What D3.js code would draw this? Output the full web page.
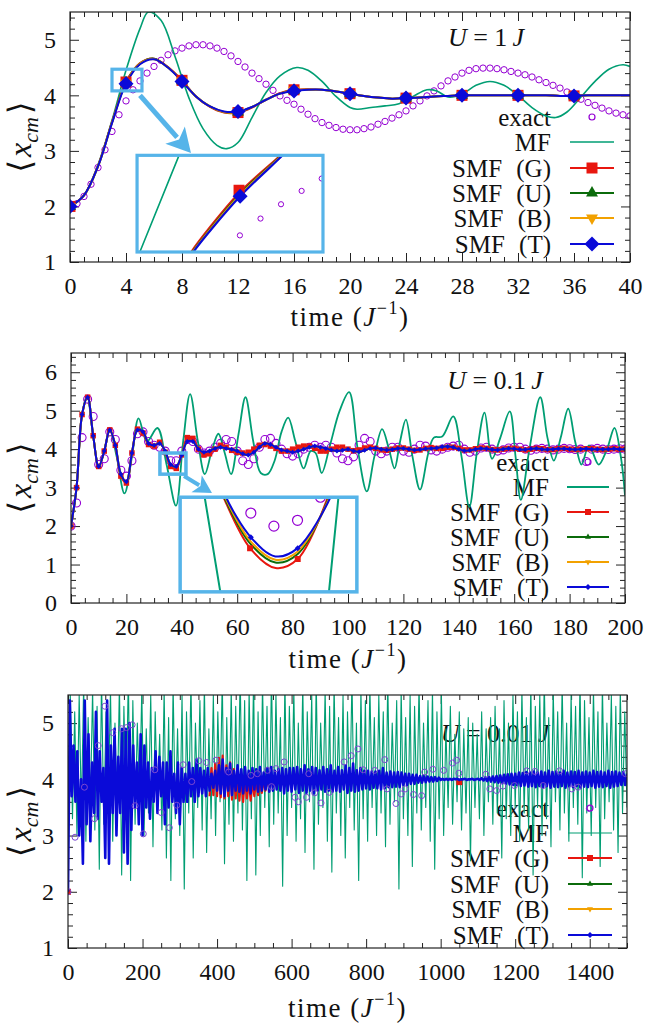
<!DOCTYPE html>
<html><head><meta charset="utf-8">
<script src="https://cdn.jsdelivr.net/npm/d3@7"></script>
<style>body{margin:0;background:#fff} svg text{font-family:"Liberation Serif","Times New Roman",serif;}</style>
</head><body><script>
// ---------------- DATA ----------------
const legendLabels = ["exact", "MF", "SMF (G)", "SMF (U)", "SMF (B)", "SMF (T)"];
const titles = ["1", "0.1", "0.01"];
const xTicks1 = [0,4,8,12,16,20,24,28,32,36,40];
const yTicks1 = [1,2,3,4,5];
const xTicks2 = [0,20,40,60,80,100,120,140,160,180,200];
const yTicks2 = [0,1,2,3,4,5,6];
const xTicks3 = [0,200,400,600,800,1000,1200,1400];
const yTicks3 = [1,2,3,4,5];

// Panel 1 (U = 1 J)
const exact1T = d3.range(0, 40.01, 0.5);
const exact1V = [2.0,2.05,2.18,2.4,2.7,3.02,3.35,3.65,3.9,4.1,4.26,4.4,4.52,4.63,4.73,4.8,4.85,4.89,4.91,4.91,
  4.89,4.85,4.79,4.71,4.61,4.51,4.4,4.3,4.2,4.09,3.99,3.91,3.84,3.75,3.66,3.58,3.51,3.46,3.42,3.39,
  3.38,3.38,3.4,3.43,3.48,3.53,3.59,3.65,3.72,3.81,3.9,3.99,4.08,4.17,4.26,4.33,4.4,4.45,4.48,4.49,
  4.49,4.48,4.46,4.43,4.4,4.37,4.33,4.28,4.23,4.18,4.13,4.06,3.99,3.93,3.87,3.82,3.77,3.72,3.68,3.65,3.63];
const mf1T = [0,1,2,3,4,5,5.6,6.5,7.5,8.5,9.5,10.5,11.2,12,13,14,15,16.2,17,18,19,20,20.5,21.5,22.5,23.5,24.5,25.5,26.2,27,28,29,30,31,32,33,34,34.7,35.5,36.5,37.5,38.5,39.5,40];
const mf1V = [2.0,2.2,2.75,3.55,4.45,5.2,5.5,5.35,4.7,3.95,3.4,3.1,3.04,3.15,3.6,4.05,4.35,4.5,4.45,4.25,3.98,3.78,3.75,3.78,3.81,3.85,3.98,4.1,4.08,3.97,4.02,4.18,4.25,4.18,4.0,3.78,3.63,3.6,3.7,3.97,4.25,4.47,4.55,4.52];
const smf1T = d3.range(0, 41, 1);
const smfG1 = [2.0,2.2,2.73,3.52,4.24,4.58,4.66,4.51,4.27,3.98,3.79,3.69,3.69,3.78,3.92,4.04,4.1,4.11,4.1,4.07,4.03,3.99,3.96,3.94,3.95,3.96,3.98,3.99,4.0,4.0,4.0,4.0,4.0,4.0,4.0,3.99,3.99,4.0,4.0,4.0,4.0];
const smfU1 = [2.0,2.2,2.72,3.51,4.23,4.57,4.66,4.5,4.26,3.98,3.8,3.7,3.7,3.79,3.92,4.03,4.09,4.1,4.1,4.07,4.03,3.99,3.96,3.94,3.95,3.96,3.98,3.99,4.0,4.0,4.0,4.0,4.0,4.0,4.0,3.99,3.99,4.0,4.0,4.0,4.0];
const smfB1 = [2.0,2.2,2.72,3.51,4.22,4.57,4.65,4.5,4.26,3.98,3.8,3.7,3.7,3.79,3.92,4.03,4.09,4.1,4.1,4.07,4.03,3.99,3.96,3.94,3.95,3.96,3.98,3.99,4.0,4.0,4.0,4.0,4.0,4.0,4.0,3.99,3.99,4.0,4.0,4.0,4.0];
const smfT1 = [2.0,2.2,2.72,3.5,4.21,4.56,4.65,4.5,4.25,3.98,3.8,3.71,3.71,3.79,3.92,4.03,4.08,4.1,4.1,4.07,4.03,3.99,3.96,3.94,3.95,3.96,3.98,3.99,4.0,4.0,4.0,4.0,4.0,4.0,4.0,3.99,3.99,4.0,4.0,4.0,4.0];
// inset 1 (zoomed view)
const in1MF = [[3.06,3.88],[3.076,3.91],[3.445,4.41],[3.46,4.44]];
const in1G = [[3.53,3.88],[3.56,3.91],[4.01,4.215],[4.4,4.41],[4.45,4.44]];
const in1U = [[3.54,3.88],[3.57,3.91],[4.015,4.207],[4.41,4.41],[4.46,4.44]];
const in1B = [[3.545,3.88],[3.575,3.91],[4.017,4.203],[4.415,4.41],[4.465,4.44]];
const in1T = [[3.55,3.88],[3.58,3.91],[4.02,4.198],[4.42,4.41],[4.47,4.44]];
const in1MarkG = [[4.01,4.229]];
const in1MarkT = [[4.02,4.198]];
const in1Exact = [[4.018,3.996],[4.212,4.083],[4.405,4.157],[4.599,4.226],[4.788,4.29]];

// Panel 2 (U = 0.1 J)
const t2 = d3.range(0, 201, 2);
const exact2 = [2.0,2.6,4.3,5.3,4.85,3.6,3.75,4.45,4.25,3.45,
  3.3,3.7,4.4,4.45,4.2,4.1,4.05,3.95,3.7,3.7,
  3.95,4.25,4.2,4.0,3.9,3.95,4.05,4.15,4.25,4.2,
  3.95,3.7,3.6,3.75,4.05,4.25,4.28,4.15,4.0,3.88,
  3.82,3.88,4.0,4.05,4.1,4.05,4.1,4.05,3.9,3.75,
  3.7,3.8,4.1,4.28,4.2,3.95,3.88,3.95,4.05,4.05,
  3.95,3.92,4.0,4.1,4.08,3.98,3.95,4.0,4.05,4.08,
  4.1,4.0,3.92,3.95,4.03,4.05,4.0,3.95,3.98,4.03,
  4.05,4.05,4.0,3.97,4.0,4.02,4.0,3.98,4.0,4.02,
  4.01,3.99,4.0,3.68,4.0,4.02,4.0,3.99,4.0,4.01,4.0];
const mf2T = [0,2,4,5.8,8,10,12,14,16.5,19.3,22,24.4,27.4,31.2,34.5,37.9,40.5,43,45.8,48.3,50.8,53.2,55.5,57.8,60.5,63,65.8,68.5,71,73.5,76,78.4,81,84,86.5,88.3,90.5,93.5,97,100.4,103.5,106.8,109.5,112.3,114.8,116.8,118.8,120.9,123.3,126,129,131,134,138,141,143.8,146.5,149.3,152,155,158.4,160.5,162.4,165.5,169.4,172,174.3,176.8,179.5,182,184.3,187,190.5,193.5,196.2,198.5,200];
const mf2V = [2.0,3.0,4.9,5.37,4.35,3.55,3.95,4.5,3.8,2.85,3.8,4.8,4.2,4.55,3.6,2.53,4.2,5.43,4.2,3.35,3.95,4.4,3.9,3.35,4.4,5.35,4.2,3.38,3.35,3.7,4.45,4.82,4.2,3.5,3.95,3.9,3.38,4.1,5.0,5.48,4.0,2.9,3.8,4.52,4.0,3.5,4.2,4.77,3.8,2.95,3.9,4.3,4.33,4.85,3.8,2.5,3.9,4.95,3.75,4.3,4.98,3.8,2.68,4.0,5.35,4.3,3.7,4.3,5.05,4.2,3.6,4.1,3.6,4.0,4.55,3.8,2.8];
const smfG2 = [2.0,3.0,4.9,5.35,4.35,3.55,3.95,4.5,4.1,3.3,
  3.12,3.9,4.52,4.42,4.12,4.08,4.18,3.92,3.55,3.5,
  3.85,4.3,4.28,4.0,3.85,3.88,4.0,4.1,4.05,3.97,
  3.92,3.9,3.92,4.0,4.1,4.12,4.08,4.02,3.95,3.95,
  4.0,4.05,4.08,4.08,4.02,3.95,3.95,4.0,4.05,4.05,
  4.0,3.96,3.98,4.03,4.05,4.02,3.98,3.97,4.0,4.03,
  4.03,4.0,3.97,3.98,4.02,4.04,4.02,4.02,4.05,4.05,
  4.02,3.98,3.98,4.01,4.03,4.02,3.99,3.98,4.0,4.02,
  4.02,4.0,3.98,4.0,4.02,4.01,3.99,3.99,4.01,4.02,
  4.0,3.99,4.0,4.01,4.01,4.0,3.99,4.0,4.01,4.0,4.0];
const smfT2 = [2.0,3.0,4.9,5.35,4.35,3.55,3.95,4.5,4.1,3.35,
  3.15,3.9,4.5,4.45,4.15,4.1,4.15,3.95,3.6,3.55,
  3.85,4.2,4.2,4.0,3.92,3.95,4.02,4.05,4.02,4.0,
  3.95,3.88,3.85,3.92,4.05,4.15,4.12,4.05,3.98,3.95,
  3.92,3.95,4.0,4.05,4.08,4.05,4.02,3.98,3.95,3.97,
  4.0,3.95,3.93,3.97,4.02,4.03,4.0,3.98,3.99,4.02,
  4.02,4.0,3.98,3.99,4.01,4.02,4.03,4.06,4.07,4.05,
  4.0,3.96,3.97,4.0,4.02,4.01,3.99,3.98,4.0,4.02,
  4.01,3.99,3.99,4.01,4.02,4.0,3.99,4.0,4.01,4.01,
  4.0,3.99,4.0,4.01,4.0,4.0,4.0,4.0,4.01,4.0,4.0];
const smfU2 = smfT2; // hidden under SMF (T) in the main view
const smfB2 = smfT2;
// inset 2
const in2MFa = [[33.2,3.98],[33.32,3.91],[34.16,3.36],[34.25,3.3]];
const in2MFb = [[40.57,3.98],[40.51,3.91],[40.0,3.36],[39.95,3.3]];
const in2G = [[34.1,3.97],[34.33,3.91],[35.76,3.614],[37.13,3.499],[38.32,3.551],[39.94,3.91],[40.1,3.97]];
const in2U = [[34.15,3.97],[34.37,3.91],[35.77,3.64],[37.12,3.53],[38.32,3.58],[40.0,3.91],[40.15,3.97]];
const in2B = [[34.2,3.97],[34.42,3.91],[35.78,3.655],[37.12,3.547],[38.32,3.595],[40.04,3.91],[40.2,3.97]];
const in2T = [[34.3,3.97],[34.47,3.91],[35.8,3.677],[37.12,3.566],[38.32,3.614],[40.08,3.91],[40.25,3.97]];
const in2MarkG = [[35.76,3.614],[38.32,3.551]];
const in2MarkT = [[35.8,3.677],[38.32,3.614]];
const in2Exact = [[35.8,3.818],[37.04,3.742],[38.31,3.776],[39.54,3.91]];

// Panel 3 (U = 0.01 J)
const mf3T = d3.range(0, 1501, 6);
const mf3V = [2.0,5.6,3.3,5.2,3.0,5.5,3.4,5.7,2.9,5.1,3.5,5.6,3.1,5.3,2.4,5.8,3.2,5.2,3.6,5.6,
  2.9,5.0,3.4,5.7,2.3,5.3,3.5,5.9,2.2,5.4,3.2,5.0,3.6,5.6,3.0,4.9,3.4,5.5,2.8,5.2,
  3.5,4.8,3.1,5.6,2.6,5.1,2.2,5.7,3.3,4.9,3.0,5.5,2.05,5.2,3.4,5.8,2.6,5.0,3.5,5.4,
  3.1,5.7,2.7,4.9,3.3,5.5,3.0,5.2,3.6,5.8,2.5,5.1,3.2,5.6,2.9,5.3,3.4,5.9,3.1,5.4,
  2.2,5.6,3.3,5.8,2.3,5.2,3.0,5.7,3.5,5.3,2.8,5.9,3.2,5.5,3.4,5.1,2.1,5.8,3.0,5.3,
  3.5,5.6,2.9,5.0,3.3,5.7,2.7,5.2,3.6,5.5,2.4,5.8,3.2,5.0,3.5,5.6,2.9,5.3,2.35,5.7,
  3.4,5.1,3.0,5.5,2.6,5.2,3.5,5.8,3.1,5.0,2.2,5.6,3.3,5.4,2.9,5.7,3.5,5.1,3.0,5.5,
  3.4,5.2,2.8,5.8,3.2,5.0,3.6,5.4,2.05,5.6,3.3,5.1,3.0,5.5,2.45,5.3,3.4,5.7,3.1,5.0,
  3.5,5.4,2.9,5.6,2.4,5.2,3.3,5.5,3.0,4.9,3.5,5.3,3.2,4.8,3.6,5.2,3.1,4.9,3.4,5.1,
  2.55,5.0,3.5,4.8,3.3,5.2,3.0,4.9,3.6,5.1,3.2,5.3,3.4,4.9,2.6,5.4,3.3,5.0,3.0,5.5,
  3.5,5.2,2.9,5.6,3.4,5.1,3.1,5.7,2.3,5.3,3.5,5.5,3.0,5.8,3.3,5.1,2.8,5.6,3.6,5.2,
  3.1,5.7,3.4,5.0,2.9,5.5,3.5,5.3,3.2,5.8,2.25,5.4,3.4,5.1,3.0,5.6,3.5,5.2,2.45,5.7,
  3.3,5.0,3.6,5.5,3.1,5.3,2.7,5.6,3.4,5.2,3.5];
const smf3T = d3.range(0, 1501, 5);
const smfT3 = [2.0,5.4,3.7,4.6,3.6,4.5,3.0,4.0,2.5,5.4,3.2,4.8,2.9,4.3,3.4,5.2,3.3,4.5,3.6,4.2,
  2.6,5.4,2.5,4.6,3.4,4.9,3.0,4.4,3.4,4.9,2.7,4.9,2.5,5.0,3.1,4.6,3.5,4.3,3.2,4.8,
  3.0,4.6,3.5,4.3,3.3,4.2,3.6,4.5,3.4,4.4,3.7,4.3,3.2,4.3,3.5,4.5,3.6,4.1,3.4,4.3,
  3.2,4.2,3.6,4.1,3.6,4.3,3.7,4.2,3.6,4.35,3.7,4.2,3.75,4.15,3.7,4.2,3.8,4.1,3.85,4.15,
  3.8,4.25,3.75,4.35,3.7,4.2,3.8,4.28,3.72,4.15,3.8,4.25,3.78,4.18,3.75,4.22,3.8,4.15,3.75,4.2,
  3.82,4.18,3.78,4.22,3.8,4.12,3.82,4.2,3.78,4.22,3.8,4.15,3.82,4.18,3.8,4.2,3.75,4.18,3.8,4.2,
  3.78,4.2,3.82,4.22,3.76,4.18,3.8,4.25,3.76,4.18,3.8,4.22,3.75,4.2,3.8,4.16,3.82,4.22,3.78,4.18,
  3.8,4.25,3.78,4.15,3.8,4.22,3.78,4.16,3.82,4.25,3.76,4.2,3.8,4.28,3.78,4.16,3.8,4.2,3.82,4.15,
  3.84,4.15,3.82,4.14,3.85,4.14,3.84,4.15,3.82,4.2,3.84,4.12,3.86,4.14,3.86,4.12,3.87,4.13,3.86,4.12,
  3.9,4.1,3.9,4.1,3.92,4.08,3.92,4.08,3.94,4.06,3.94,4.06,3.95,4.05,3.96,4.04,3.96,4.04,3.97,4.03,
  3.99,4.01,3.99,4.01,3.99,4.01,3.99,4.01,4.0,4.01,3.99,4.0,4.0,4.01,3.99,4.0,4.0,4.01,3.99,4.0,
  4.01,3.99,4.02,3.98,4.03,3.97,4.04,3.96,4.05,3.95,4.06,3.94,4.07,3.93,4.08,3.92,4.09,3.91,4.1,3.9,
  4.1,3.9,4.12,3.88,4.11,3.89,4.13,3.87,4.12,3.88,4.14,3.86,4.12,3.88,4.14,3.86,4.12,3.88,4.15,3.85,
  4.13,3.87,4.14,3.86,4.12,3.88,4.15,3.85,4.12,3.87,4.14,3.86,4.13,3.88,4.15,3.85,4.12,3.87,4.14,3.86,
  4.12,3.88,4.15,3.85,4.13,3.87,4.14,3.86,4.12,3.88,4.15,3.85,4.13,3.87,4.14,3.88,4.12,3.9,4.13,3.9,4.1];
const smfG3T = d3.range(380, 601, 5);
const smfG3 = [3.7,4.2,3.72,4.28,3.7,4.38,3.68,4.42,3.66,4.25,3.7,4.3,3.64,4.18,3.66,4.12,3.62,4.08,3.6,4.05,
  3.66,4.02,3.62,3.98,3.7,4.0,3.72,4.02,3.76,3.98,3.8,4.03,3.84,4.05,3.86,4.0,3.9,4.02,3.9,4.03,3.92,4.02,3.94,4.02,3.95];
const smfG3Marks = [[0,2.0],[1050,3.95]];
const exact3 = [[0,2.0],[19,2.97],[44,3.86],[71,3.3],[81,4.6],[99,5.3],[120,4.83],[144,4.9],[157,4.92],[172,4.97],
  [180,3.53],[202,3.03],[233,4.17],[250,3.41],[272,3.14],[292,3.54],[309,4.26],[332,3.96],[351,4.33],[372,4.3],
  [397,4.34],[431,4.13],[491,4.07],[508,4.1],[535,4.16],[546,3.87],[558,4.19],[580,4.31],[609,3.68],[618,3.6],
  [640,3.68],[646,4.1],[662,3.76],[679,3.58],[701,3.77],[741,4.31],[760,4.42],[778,4.54],[792,4.17],[823,4.16],
  [850,4.35],[856,3.83],[880,3.57],[894,3.74],[905,3.83],[927,3.73],[949,3.71],[957,4.13],[979,4.18],[1008,4.16],
  [1032,4.29],[1043,4.34],[1049,4.11],[1121,4.09],[1132,3.83],[1150,3.8],[1167,3.88],[1198,3.89],[1231,4.15],[1253,4.14],
  [1275,3.89],[1319,4.15],[1352,3.83],[1369,3.86],[1399,3.48],[1496,4.1]];

// ---------------- STYLE ----------------
const C = {exact:"#9400d3", mf:"#009e73", G:"#e8170f", U:"#0b6b0b", B:"#f2a100", T:"#0a0ad8", box:"#56b4e9"};
const W = 648, H = 1025;
const svg = d3.select("body").append("svg").attr("width", W).attr("height", H).style("display","block");
const zip = (ts, vs) => ts.map((t, i) => [t, vs[i]]);
let clipN = 0;

function sym(type, size) {
  if (type === "square") return {d: d3.symbol(d3.symbolSquare, size*size)(), r: 0};
  if (type === "diamond") return {d: d3.symbol(d3.symbolSquare, size*size/2)(), r: 45};
  if (type === "tri") return {d: d3.symbol(d3.symbolTriangle, 0.433*size*size)(), r: 0};
  if (type === "tridown") return {d: d3.symbol(d3.symbolTriangle, 0.433*size*size)(), r: 180};
}
function markers(g, pts, x, y, type, size, color) {
  const s = sym(type, size);
  g.selectAll(null).data(pts).enter().append("path").attr("d", s.d)
    .attr("transform", d => `translate(${x(d[0])},${y(d[1])}) rotate(${s.r})`).attr("fill", color);
}
function circles(g, pts, x, y, r, color, sw) {
  g.selectAll(null).data(pts).enter().append("circle").attr("cx", d => x(d[0])).attr("cy", d => y(d[1]))
    .attr("r", r).attr("fill", "none").attr("stroke", color).attr("stroke-width", sw);
}
function line(g, pts, x, y, color, sw, curve) {
  g.append("path").datum(pts).attr("fill", "none").attr("stroke", color).attr("stroke-width", sw)
    .attr("stroke-linejoin", "round")
    .attr("d", d3.line().x(d => x(d[0])).y(d => y(d[1])).curve(curve || d3.curveLinear));
}
function clipRect(x0, y0, x1, y1) {
  const id = "clip" + (clipN++);
  svg.append("clipPath").attr("id", id).append("rect").attr("x", x0).attr("y", y0).attr("width", x1 - x0).attr("height", y1 - y0);
  return `url(#${id})`;
}

function panel(p) {
  const x = d3.scaleLinear().domain(p.xDomain).range([p.left, p.right]);
  const y = d3.scaleLinear().domain(p.yDomain).range([p.bottom, p.top]);
  const g = svg.append("g");
  const ax = (axis, tr, vals, size, fmt, pad) => {
    const a = g.append("g").attr("transform", tr)
      .call(axis.tickValues(vals).tickSize(size).tickPadding(pad || 3).tickFormat(fmt));
    a.attr("font-family", null).attr("font-size", null);
    a.select(".domain").remove();
    a.selectAll("line").attr("stroke", "#222").attr("stroke-width", 1);
    a.selectAll("text").style("font-size", "24px").attr("fill", "#111");
  };
  const none = () => "";
  ax(d3.axisBottom(x), `translate(0,${p.bottom})`, p.xTicks, -9, d3.format("d"), 15);
  ax(d3.axisBottom(x), `translate(0,${p.bottom})`, p.xMinor, -5, none);
  ax(d3.axisTop(x), `translate(0,${p.top})`, p.xTicks, -9, none);
  ax(d3.axisTop(x), `translate(0,${p.top})`, p.xMinor, -5, none);
  ax(d3.axisLeft(y), `translate(${p.left},0)`, p.yTicks, -9, d3.format("d"), 14);
  ax(d3.axisLeft(y), `translate(${p.left},0)`, p.yMinor, -5, none);
  ax(d3.axisRight(y), `translate(${p.right},0)`, p.yTicks, -9, none);
  ax(d3.axisRight(y), `translate(${p.right},0)`, p.yMinor, -5, none);

  // axis titles
  const yl = g.append("text").attr("transform", `translate(31,${(p.top + p.bottom)/2}) rotate(-90)`)
    .attr("text-anchor", "middle").style("font-size", "32px").attr("fill", "#111");
  yl.append("tspan").style("font-family", '"DejaVu Serif"').style("font-size", "32px").style("font-weight", "200").text("\u27E8");
  yl.append("tspan").style("font-style", "italic").attr("dx", 3).text("x");
  yl.append("tspan").style("font-style", "italic").style("font-size", "22px").attr("dy", 7).text("cm");
  yl.append("tspan").style("font-family", '"DejaVu Serif"').style("font-size", "32px").style("font-weight", "200").attr("dy", -7).attr("dx", 3).text("\u27E9");
  const xl = g.append("text").attr("x", (p.left + p.right)/2).attr("y", p.xLabelY).attr("text-anchor", "middle")
    .style("font-size", "27px").attr("fill", "#111").attr("letter-spacing", 1.5);
  xl.append("tspan").text("time (");
  xl.append("tspan").style("font-style", "italic").text("J");
  xl.append("tspan").style("font-size", "18px").attr("dy", -12).text("\u22121");
  xl.append("tspan").attr("dy", 12).text(")");

  // panel title
  const tt = g.append("text").attr("x", p.titleX).attr("y", p.titleY).attr("text-anchor", "middle")
    .style("font-size", "26px").attr("fill", "#111");
  tt.append("tspan").style("font-style", "italic").text("U");
  tt.append("tspan").text(" = " + p.title + "\u2009");
  tt.append("tspan").style("font-style", "italic").text("J");

  // legend labels
  legendLabels.forEach((lab, i) => {
    g.append("text").attr("x", p.legTextX).attr("y", p.legY[i]).attr("dy", "0.35em").attr("text-anchor", "end")
      .style("font-size", "25px").attr("fill", "#111").attr("word-spacing", 8).text(lab);
  });

  const data = g.append("g").attr("clip-path", clipRect(p.left, p.top, p.right, p.bottom));
  return {g, x, y, data};
}

function legendSamples(P, p, mk, sizes, sw, rExact) {
  const {g} = P;
  const cols = [C.exact, C.mf, C.G, C.U, C.B, C.T];
  const mid = (p.legX0 + p.legX1)/2;
  cols.forEach((c, i) => {
    const yy = p.legY[i];
    if (i === 0) {
      g.append("circle").attr("cx", mid).attr("cy", yy).attr("r", rExact).attr("fill", "none").attr("stroke", c).attr("stroke-width", 1.2);
      return;
    }
    g.append("line").attr("x1", p.legX0).attr("x2", p.legX1).attr("y1", yy).attr("y2", yy)
      .attr("stroke", c).attr("stroke-width", i === 1 ? p.mfW : sw);
    if (i >= 2) {
      const s = sym(mk[i-2], sizes[i-2]);
      g.append("path").attr("d", s.d).attr("transform", `translate(${mid},${yy}) rotate(${s.r})`).attr("fill", c);
    }
  });
}

function insetBox(P, small, big, xd, yd, sw) {
  const {g, x, y} = P;
  g.append("rect").attr("x", x(small[0])).attr("y", y(small[3])).attr("width", x(small[1]) - x(small[0]))
    .attr("height", y(small[2]) - y(small[3])).attr("fill", "none").attr("stroke", C.box).attr("stroke-width", sw);
  const bx0 = x(big[0]), bx1 = x(big[1]), by0 = y(big[3]), by1 = y(big[2]);
  g.append("rect").attr("x", bx0).attr("y", by0).attr("width", bx1 - bx0).attr("height", by1 - by0).attr("fill", "#fff");
  const ix = d3.scaleLinear().domain(xd).range([bx0, bx1]);
  const iy = d3.scaleLinear().domain(yd).range([by1, by0]);
  const ig = g.append("g").attr("clip-path", clipRect(bx0, by0, bx1, by1));
  const frame = () => g.append("rect").attr("x", bx0).attr("y", by0).attr("width", bx1 - bx0).attr("height", by1 - by0)
    .attr("fill", "none").attr("stroke", C.box).attr("stroke-width", sw);
  return {ig, ix, iy, frame};
}
function arrow(P, from, to, L, w, sw) {
  const {g, x, y} = P;
  const x0 = x(from[0]), y0 = y(from[1]), x1 = x(to[0]), y1 = y(to[1]);
  const len = Math.hypot(x1 - x0, y1 - y0), ux = (x1 - x0)/len, uy = (y1 - y0)/len;
  const bx = x1 - ux*L, by = y1 - uy*L;
  g.append("line").attr("x1", x0).attr("y1", y0).attr("x2", bx + ux*3).attr("y2", by + uy*3).attr("stroke", C.box).attr("stroke-width", sw);
  g.append("path").attr("d", `M${x1},${y1}L${bx - uy*w},${by + ux*w}L${bx + ux*L*0.25},${by + uy*L*0.25}L${bx + uy*w},${by - ux*w}Z`).attr("fill", C.box);
}

// ---------------- PANEL 1 ----------------
const p1 = {xDomain:[0,40], yDomain:[1,5.5], left:70, right:630, top:12, bottom:262,
  xTicks:xTicks1, xMinor:d3.range(0,41,1).filter(v => v % 4), yTicks:yTicks1,
  yMinor:d3.range(0,23).map(i => 1 + i*0.2).filter(v => Math.abs(v - Math.round(v)) > 0.01),
  xLabelY:326, title:titles[0], titleX:486, titleY:46,
  legTextX:551, legY:[117,142,168,193,218,244], legX0:570, legX1:614, mfW:1.5};
const P1 = panel(p1);
{
  const {data, x, y} = P1;
  circles(data, zip(exact1T, exact1V), x, y, 3.2, C.exact, 1);
  line(data, zip(mf1T, mf1V), x, y, C.mf, 1.6, d3.curveCatmullRom);
  const sm = [[smfG1, C.G], [smfU1, C.U], [smfB1, C.B], [smfT1, C.T]];
  sm.forEach(([v, c]) => line(data, zip(smf1T, v), x, y, c, 2, d3.curveCatmullRom));
  const every4 = (v) => zip(smf1T, v).filter((d, i) => i % 4 === 0 && i < 40);
  markers(data, every4(smfG1), x, y, "square", 11, C.G);
  markers(data, every4(smfU1), x, y, "tri", 12, C.U);
  markers(data, every4(smfB1), x, y, "tridown", 12, C.B);
  markers(data, every4(smfT1), x, y, "diamond", 15, C.T);
  const I = insetBox(P1, [3.0, 5.14, 4.08, 4.47], [4.79, 18.07, 1.18, 2.92], [3.05, 4.8], [3.91, 4.41], 3.2);
  line(I.ig, in1MF, I.ix, I.iy, C.mf, 1.6);
  line(I.ig, in1G, I.ix, I.iy, C.G, 2.2, d3.curveCatmullRom);
  line(I.ig, in1U, I.ix, I.iy, C.U, 2.2, d3.curveCatmullRom);
  line(I.ig, in1B, I.ix, I.iy, C.B, 2.2, d3.curveCatmullRom);
  line(I.ig, in1T, I.ix, I.iy, C.T, 2.2, d3.curveCatmullRom);
  markers(I.ig, in1MarkG, I.ix, I.iy, "square", 11, C.G);
  markers(I.ig, in1MarkT, I.ix, I.iy, "diamond", 15, C.T);
  circles(I.ig, in1Exact, I.ix, I.iy, 2.6, C.exact, 1);
  I.frame();
  arrow(P1, [5.0, 4.0], [8.64, 2.96], 24, 13, 5);
  legendSamples(P1, p1, ["square","tri","tridown","diamond"], [11,12,12,15], 2, 3);
}

// ---------------- PANEL 2 ----------------
const p2 = {xDomain:[0,200], yDomain:[0,6.5], left:71, right:625, top:353, bottom:603,
  xTicks:xTicks2, xMinor:d3.range(0,201,5).filter(v => v % 20), yTicks:yTicks2,
  yMinor:d3.range(0,33).map(i => i*0.2).filter(v => Math.abs(v - Math.round(v)) > 0.01),
  xLabelY:668, title:titles[1], titleX:495, titleY:389,
  legTextX:549, legY:[462,487,512,537,562,587], legX0:567, legX1:609, mfW:1.8};
const P2 = panel(p2);
{
  const {data, x, y} = P2;
  circles(data, zip(t2, exact2), x, y, 4, C.exact, 1.1);
  line(data, zip(mf2T, mf2V), x, y, C.mf, 1.8, d3.curveCatmullRom);
  line(data, zip(t2, smfG2), x, y, C.G, 2, d3.curveCatmullRom);
  markers(data, zip(t2, smfG2), x, y, "square", 5.5, C.G);
  line(data, zip(t2, smfU2), x, y, C.U, 2, d3.curveCatmullRom);
  line(data, zip(t2, smfB2), x, y, C.B, 2, d3.curveCatmullRom);
  line(data, zip(t2, smfT2), x, y, C.T, 2, d3.curveCatmullRom);
  markers(data, zip(t2, smfT2), x, y, "diamond", 5, C.T);
  const I = insetBox(P2, [32.1, 41.5, 3.35, 3.9], [39.4, 103.2, 0.29, 2.75], [32, 41.5], [3.36, 3.91], 3.5);
  line(I.ig, in2MFa, I.ix, I.iy, C.mf, 2);
  line(I.ig, in2MFb, I.ix, I.iy, C.mf, 2);
  line(I.ig, in2G, I.ix, I.iy, C.G, 2, d3.curveCatmullRom);
  line(I.ig, in2U, I.ix, I.iy, C.U, 2, d3.curveCatmullRom);
  line(I.ig, in2B, I.ix, I.iy, C.B, 2, d3.curveCatmullRom);
  line(I.ig, in2T, I.ix, I.iy, C.T, 2, d3.curveCatmullRom);
  markers(I.ig, in2MarkG, I.ix, I.iy, "square", 6, C.G);
  markers(I.ig, in2MarkT, I.ix, I.iy, "diamond", 6, C.T);
  circles(I.ig, in2Exact, I.ix, I.iy, 5, C.exact, 1.2);
  I.frame();
  arrow(P2, [40.8, 3.3], [50.9, 2.86], 18, 10, 4);
  legendSamples(P2, p2, ["square","tri","tridown","diamond"], [6,6,6,6], 2, 3);
}

// ---------------- PANEL 3 ----------------
const p3 = {xDomain:[0,1500], yDomain:[1,5.5], left:68, right:627, top:695, bottom:948,
  xTicks:xTicks3, xMinor:d3.range(0,1501,50).filter(v => v % 200), yTicks:yTicks3,
  yMinor:d3.range(0,23).map(i => 1 + i*0.2).filter(v => Math.abs(v - Math.round(v)) > 0.01),
  xLabelY:1017, title:titles[2], titleX:495, titleY:742,
  legTextX:549, legY:[808,833,858,884,909,935], legX0:568, legX1:612, mfW:1.2};
const P3 = panel(p3);
{
  const {data, x, y} = P3;
  line(data, zip(mf3T, mf3V), x, y, C.mf, 1.1);
  line(data, zip(smfG3T, smfG3), x, y, C.G, 2.2);
  markers(data, smfG3Marks, x, y, "square", 6, C.G);
  line(data, zip(smf3T, smfT3), x, y, C.T, 2.6);
  circles(data, exact3, x, y, 3, "#7a48d0", 1);
  legendSamples(P3, p3, ["square","tri","tridown","diamond"], [6,6,6,6], 2, 3);
}

// frames on top
[p1, p2, p3].forEach(p => svg.append("rect").attr("x", p.left).attr("y", p.top)
  .attr("width", p.right - p.left).attr("height", p.bottom - p.top)
  .attr("fill", "none").attr("stroke", "#222").attr("stroke-width", 1.2));
</script></body></html>
